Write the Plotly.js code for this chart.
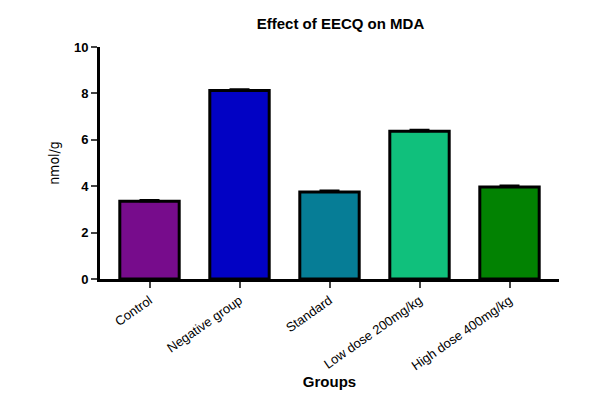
<!DOCTYPE html>
<html><head><meta charset="utf-8">
<script src="https://cdn.plot.ly/plotly-3.0.1.min.js"></script>
<style>body{margin:0;background:#fff}#plot{width:608px;height:419px}</style>
</head><body><div id="plot"></div>
<script>
const groups = ["Control", "Negative group", "Standard", "Low dose 200mg/kg", "High dose 400mg/kg"];
const mda = [3.35, 8.12, 3.75, 6.37, 3.97];
const sem = [0.06, 0.06, 0.06, 0.06, 0.06];
const colors = ["#770C8C", "#0202C4", "#067D96", "#10C07C", "#028202"];

Plotly.newPlot("plot", [{
  type: "bar",
  x: groups,
  y: mda,
  width: 0.66,
  marker: { color: colors, line: { color: "#000", width: 3 } },
  error_y: { type: "data", array: sem, symmetric: false, arrayminus: [0,0,0,0,0], color: "#000", thickness: 2, width: 10 }
}], {
  width: 608, height: 419,
  margin: { l: 100, r: 49, t: 47, b: 140 },
  paper_bgcolor: "#fff", plot_bgcolor: "#fff",
  font: { family: "Liberation Sans, Arial", color: "#000" },
  title: { text: "<b>Effect of EECQ on MDA</b>", x: 0.56, y: 0.955, font: { size: 15 } },
  showlegend: false,
  bargap: 0.34,
  xaxis: {
    range: [-0.55, 4.55], showline: true, linewidth: 3, linecolor: "#000",
    ticks: "outside", ticklen: 6, tickwidth: 2, tickangle: -35,
    tickfont: { size: 13, family: "Liberation Sans, Arial" },
    title: { text: "<b>Groups</b>", font: { size: 15 }, standoff: 5 }
  },
  yaxis: {
    range: [0, 10], dtick: 2, showline: true, linewidth: 3, linecolor: "#000",
    ticks: "outside", ticklen: 6, tickwidth: 2, showgrid: false, zeroline: false,
    tickfont: { size: 13 }, tickprefix: "<b>", ticksuffix: "</b>",
    title: { text: "nmol/g", font: { size: 14, family: "DejaVu Sans Condensed, Liberation Sans Narrow" }, standoff: 12 }
  }
}, { displayModeBar: false });
</script></body></html>
